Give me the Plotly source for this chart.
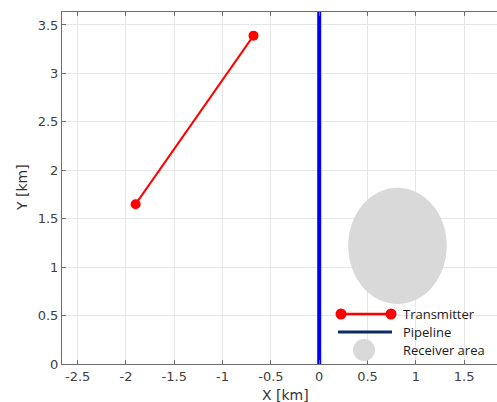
import plotly.graph_objects as go

# Survey geometry (km)
tx_x = [-1.9, -0.68]
tx_y = [1.65, 3.39]
pipe_x = [0.0, 0.0]
pipe_y = [0.0, 3.7]
rx_center = [0.81, 1.22]
rx_radius = [0.51, 0.60]

x_ticks = [-2.5, -2.0, -1.5, -1.0, -0.5, 0.0, 0.5, 1.0, 1.5]
x_ticktext = ["-2.5", "-2", "-1.5", "-1", "-0.5", "0", "0.5", "1", "1.5"]
y_ticks = [0, 0.5, 1.0, 1.5, 2.0, 2.5, 3.0, 3.5]
y_ticktext = ["0", "0.5", "1", "1.5", "2", "2.5", "3", "3.5"]

legend_labels = ["Transmitter", "Pipeline", "Receiver area"]

W, H = 497, 402
ML, MR, MT, MB = 62, 0, 12, 38
PW, PH = W - ML - MR, H - MT - MB


def px_x(p):
    return (p - ML) / PW


def px_y(p):
    return (H - MB - p) / PH


fig = go.Figure()

fig.add_trace(go.Scatter(
    x=pipe_x, y=pipe_y, mode="lines",
    line=dict(color="#0000ff", width=4), showlegend=False, hoverinfo="skip"))

fig.add_trace(go.Scatter(
    x=tx_x, y=tx_y, mode="lines+markers",
    line=dict(color="#ff0000", width=2),
    marker=dict(color="#ff0000", size=10), showlegend=False))

shapes = []
# receiver area ellipse
shapes.append(dict(
    type="circle", xref="x", yref="y", layer="between",
    x0=rx_center[0] - rx_radius[0], x1=rx_center[0] + rx_radius[0],
    y0=rx_center[1] - rx_radius[1], y1=rx_center[1] + rx_radius[1],
    fillcolor="#d9d9d9", line=dict(width=0)))

# legend panel
shapes.append(dict(
    type="rect", xref="paper", yref="paper", layer="between",
    x0=px_x(333), x1=1.0, y0=0.0, y1=px_y(303),
    fillcolor="white", line=dict(width=0)))

row_y = [314, 332, 350]
# transmitter glyph: line with end markers
shapes.append(dict(type="line", xref="paper", yref="paper", layer="above",
                   x0=px_x(341), x1=px_x(391), y0=px_y(row_y[0]), y1=px_y(row_y[0]),
                   line=dict(color="#ff0000", width=2.5)))
for cx in (341, 391):
    shapes.append(dict(type="circle", xref="paper", yref="paper", layer="above",
                       xsizemode="pixel", ysizemode="pixel",
                       xanchor=px_x(cx), yanchor=px_y(row_y[0]),
                       x0=-5.5, x1=5.5, y0=-5.5, y1=5.5,
                       fillcolor="#ff0000", line=dict(width=0)))
# pipeline glyph
shapes.append(dict(type="line", xref="paper", yref="paper", layer="above",
                   x0=px_x(338), x1=px_x(392), y0=px_y(row_y[1]), y1=px_y(row_y[1]),
                   line=dict(color="#0b2a66", width=3)))
# receiver glyph
shapes.append(dict(type="circle", xref="paper", yref="paper", layer="above",
                   xsizemode="pixel", ysizemode="pixel",
                   xanchor=px_x(364), yanchor=px_y(row_y[2]),
                   x0=-11, x1=11, y0=-11, y1=11,
                   fillcolor="#d9d9d9", line=dict(width=0)))

annotations = []
for lbl, ry in zip(legend_labels, row_y):
    annotations.append(dict(
        text=lbl, xref="paper", yref="paper", x=px_x(401), y=px_y(ry),
        xanchor="left", yanchor="middle", showarrow=False,
        font=dict(family="Open Sans", size=13, color="#1a1a1a")))

annotations.append(dict(
    text="Y [km]", xref="paper", yref="paper", x=0, y=0.5, xshift=-40,
    textangle=-90, xanchor="center", yanchor="middle", showarrow=False,
    font=dict(family="DejaVu Sans", size=14, color="#333333")))
annotations.append(dict(
    text="X [km]", xref="paper", yref="paper", x=px_x(285), y=0, yshift=-31,
    xanchor="center", yanchor="middle", showarrow=False,
    font=dict(family="DejaVu Sans", size=14, color="#333333")))

axis_common = dict(
    showgrid=True, gridcolor="#e6e6e6", gridwidth=1,
    showline=True, linecolor="#6e6e6e", linewidth=1,
    ticks="inside", ticklen=4, tickcolor="#6e6e6e",
    zeroline=False,
    tickfont=dict(family="DejaVu Sans", size=13, color="#404040"),
)

fig.update_layout(
    width=W, height=H,
    margin=dict(l=ML, r=MR, t=MT, b=MB, autoexpand=False),
    paper_bgcolor="white", plot_bgcolor="white",
    showlegend=False,
    shapes=shapes, annotations=annotations,
    xaxis=dict(range=[-2.662, 1.84], tickvals=x_ticks, ticktext=x_ticktext,
               mirror="ticks", **axis_common),
    yaxis=dict(range=[0, 3.634], tickvals=y_ticks, ticktext=y_ticktext,
               mirror=False, **axis_common),
)

fig.write_html("out.html")
